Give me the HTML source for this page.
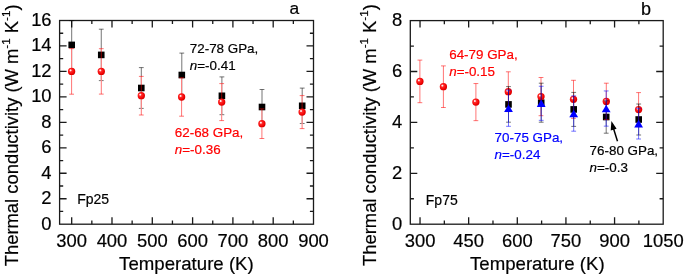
<!DOCTYPE html><html><head><meta charset="utf-8"><style>html,body{margin:0;padding:0;background:#fff;width:685px;height:276px;overflow:hidden}svg{display:block;will-change:transform;font-family:"Liberation Sans",sans-serif}text{stroke-width:0.2px;stroke-linejoin:round}.tk,.ti,.tx,.fp,.ab{stroke:#000}.tk{font-size:18.4px;fill:#000}.ti{font-size:18.4px;fill:#000}.tx{font-size:18.65px;fill:#000}.an{font-size:13.4px}.fp{font-size:14px;fill:#000}.ab{font-size:18px;fill:#000}</style></head><body>
<svg width="685" height="276" viewBox="0 0 685 276">
<defs><radialGradient id="rg" cx="0.42" cy="0.42" r="0.6" fx="0.34" fy="0.34"><stop offset="0" stop-color="#ffffff"/><stop offset="0.12" stop-color="#ffe0e0"/><stop offset="0.32" stop-color="#ff2a2a"/><stop offset="0.8" stop-color="#f00000"/><stop offset="1" stop-color="#d00000"/></radialGradient></defs>
<path d="M71.69 224.20V217.20M71.69 20.50V27.50M111.99 224.20V217.20M111.99 20.50V27.50M152.29 224.20V217.20M152.29 20.50V27.50M192.60 224.20V217.20M192.60 20.50V27.50M232.90 224.20V217.20M232.90 20.50V27.50M273.20 224.20V217.20M273.20 20.50V27.50M91.84 224.20V220.60M91.84 20.50V24.10M132.14 224.20V220.60M132.14 20.50V24.10M172.44 224.20V220.60M172.44 20.50V24.10M212.75 224.20V220.60M212.75 20.50V24.10M253.05 224.20V220.60M253.05 20.50V24.10M293.35 224.20V220.60M293.35 20.50V24.10M59.60 198.74H66.60M313.50 198.74H306.50M59.60 173.27H66.60M313.50 173.27H306.50M59.60 147.81H66.60M313.50 147.81H306.50M59.60 122.35H66.60M313.50 122.35H306.50M59.60 96.89H66.60M313.50 96.89H306.50M59.60 71.43H66.60M313.50 71.43H306.50M59.60 45.96H66.60M313.50 45.96H306.50M59.60 211.47H63.20M313.50 211.47H309.90M59.60 186.01H63.20M313.50 186.01H309.90M59.60 160.54H63.20M313.50 160.54H309.90M59.60 135.08H63.20M313.50 135.08H309.90M59.60 109.62H63.20M313.50 109.62H309.90M59.60 84.16H63.20M313.50 84.16H309.90M59.60 58.69H63.20M313.50 58.69H309.90M59.60 33.23H63.20M313.50 33.23H309.90" stroke="#1a1a1a" stroke-width="1.3" fill="none"/>
<rect x="59.6" y="20.5" width="253.90" height="203.70" stroke="#1a1a1a" stroke-width="1.3" fill="none"/>
<text x="51.6" y="229.50" text-anchor="end" class="tk">0</text>
<text x="51.6" y="204.04" text-anchor="end" class="tk">2</text>
<text x="51.6" y="178.57" text-anchor="end" class="tk">4</text>
<text x="51.6" y="153.11" text-anchor="end" class="tk">6</text>
<text x="51.6" y="127.65" text-anchor="end" class="tk">8</text>
<text x="51.6" y="102.19" text-anchor="end" class="tk">10</text>
<text x="51.6" y="76.73" text-anchor="end" class="tk">12</text>
<text x="51.6" y="51.26" text-anchor="end" class="tk">14</text>
<text x="51.6" y="25.80" text-anchor="end" class="tk">16</text>
<text x="71.69" y="246.8" text-anchor="middle" class="tk">300</text>
<text x="111.99" y="246.8" text-anchor="middle" class="tk">400</text>
<text x="152.29" y="246.8" text-anchor="middle" class="tk">500</text>
<text x="192.60" y="246.8" text-anchor="middle" class="tk">600</text>
<text x="232.90" y="246.8" text-anchor="middle" class="tk">700</text>
<text x="273.20" y="246.8" text-anchor="middle" class="tk">800</text>
<text x="313.50" y="246.8" text-anchor="middle" class="tk">900</text>
<path d="M420.03 224.20V217.20M420.03 20.60V27.60M468.66 224.20V217.20M468.66 20.60V27.60M517.30 224.20V217.20M517.30 20.60V27.60M565.93 224.20V217.20M565.93 20.60V27.60M614.57 224.20V217.20M614.57 20.60V27.60M444.34 224.20V220.60M444.34 20.60V24.20M492.98 224.20V220.60M492.98 20.60V24.20M541.61 224.20V220.60M541.61 20.60V24.20M590.25 224.20V220.60M590.25 20.60V24.20M638.88 224.20V220.60M638.88 20.60V24.20M410.30 173.30H417.30M663.20 173.30H656.20M410.30 122.40H417.30M663.20 122.40H656.20M410.30 71.50H417.30M663.20 71.50H656.20M410.30 198.75H413.90M663.20 198.75H659.60M410.30 147.85H413.90M663.20 147.85H659.60M410.30 96.95H413.90M663.20 96.95H659.60M410.30 46.05H413.90M663.20 46.05H659.60" stroke="#1a1a1a" stroke-width="1.3" fill="none"/>
<rect x="410.3" y="20.6" width="252.90" height="203.60" stroke="#1a1a1a" stroke-width="1.3" fill="none"/>
<text x="402.2" y="229.50" text-anchor="end" class="tk">0</text>
<text x="402.2" y="178.60" text-anchor="end" class="tk">2</text>
<text x="402.2" y="127.70" text-anchor="end" class="tk">4</text>
<text x="402.2" y="76.80" text-anchor="end" class="tk">6</text>
<text x="402.2" y="25.90" text-anchor="end" class="tk">8</text>
<text x="420.03" y="246.8" text-anchor="middle" class="tk">300</text>
<text x="468.66" y="246.8" text-anchor="middle" class="tk">450</text>
<text x="517.30" y="246.8" text-anchor="middle" class="tk">600</text>
<text x="565.93" y="246.8" text-anchor="middle" class="tk">750</text>
<text x="614.57" y="246.8" text-anchor="middle" class="tk">900</text>
<text x="663.20" y="246.8" text-anchor="middle" class="tk">1050</text>
<path d="M71.70 20.60V69.20M69.30 20.60H74.10M69.30 69.20H74.10" stroke="#000" stroke-width="0.55" fill="none"/>
<path d="M101.25 29.20V80.60M98.85 29.20H103.65M98.85 80.60H103.65" stroke="#000" stroke-width="0.55" fill="none"/>
<path d="M141.30 67.60V108.40M138.90 67.60H143.70M138.90 108.40H143.70" stroke="#000" stroke-width="0.55" fill="none"/>
<path d="M181.80 53.10V96.90M179.40 53.10H184.20M179.40 96.90H184.20" stroke="#000" stroke-width="0.55" fill="none"/>
<path d="M221.90 76.90V114.70M219.50 76.90H224.30M219.50 114.70H224.30" stroke="#000" stroke-width="0.55" fill="none"/>
<path d="M262.00 89.50V124.50M259.60 89.50H264.40M259.60 124.50H264.40" stroke="#000" stroke-width="0.55" fill="none"/>
<path d="M302.20 88.10V123.50M299.80 88.10H304.60M299.80 123.50H304.60" stroke="#000" stroke-width="0.55" fill="none"/>
<path d="M71.60 48.60V94.20" stroke="#fff" stroke-width="1.1"/>
<path d="M101.30 48.70V94.10" stroke="#fff" stroke-width="1.1"/>
<path d="M141.30 76.40V115.00" stroke="#fff" stroke-width="1.1"/>
<path d="M181.60 77.80V116.20" stroke="#fff" stroke-width="1.1"/>
<path d="M221.70 83.60V120.60" stroke="#fff" stroke-width="1.1"/>
<path d="M261.90 108.90V138.50" stroke="#fff" stroke-width="1.1"/>
<path d="M302.10 95.60V128.60" stroke="#fff" stroke-width="1.1"/>
<rect x="68.40" y="41.60" width="6.6" height="6.6" fill="#000"/>
<rect x="97.95" y="51.60" width="6.6" height="6.6" fill="#000"/>
<rect x="138.00" y="84.70" width="6.6" height="6.6" fill="#000"/>
<rect x="178.50" y="71.70" width="6.6" height="6.6" fill="#000"/>
<rect x="218.60" y="92.50" width="6.6" height="6.6" fill="#000"/>
<rect x="258.70" y="103.70" width="6.6" height="6.6" fill="#000"/>
<rect x="298.90" y="102.50" width="6.6" height="6.6" fill="#000"/>
<path d="M71.60 48.60V94.20M69.20 48.60H74.00M69.20 94.20H74.00" stroke="#ff0000" stroke-width="0.55" fill="none"/>
<circle cx="71.60" cy="71.40" r="3.65" fill="url(#rg)"/>
<path d="M101.30 48.70V94.10M98.90 48.70H103.70M98.90 94.10H103.70" stroke="#ff0000" stroke-width="0.55" fill="none"/>
<circle cx="101.30" cy="71.40" r="3.65" fill="url(#rg)"/>
<path d="M141.30 76.40V115.00M138.90 76.40H143.70M138.90 115.00H143.70" stroke="#ff0000" stroke-width="0.55" fill="none"/>
<circle cx="141.30" cy="95.70" r="3.65" fill="url(#rg)"/>
<path d="M181.60 77.80V116.20M179.20 77.80H184.00M179.20 116.20H184.00" stroke="#ff0000" stroke-width="0.55" fill="none"/>
<circle cx="181.60" cy="97.00" r="3.65" fill="url(#rg)"/>
<path d="M221.70 83.60V120.60M219.30 83.60H224.10M219.30 120.60H224.10" stroke="#ff0000" stroke-width="0.55" fill="none"/>
<circle cx="221.70" cy="102.10" r="3.65" fill="url(#rg)"/>
<path d="M261.90 108.90V138.50M259.50 108.90H264.30M259.50 138.50H264.30" stroke="#ff0000" stroke-width="0.55" fill="none"/>
<circle cx="261.90" cy="123.70" r="3.65" fill="url(#rg)"/>
<path d="M302.10 95.60V128.60M299.70 95.60H304.50M299.70 128.60H304.50" stroke="#ff0000" stroke-width="0.55" fill="none"/>
<circle cx="302.10" cy="112.10" r="3.65" fill="url(#rg)"/>
<rect x="505.20" y="101.10" width="6.6" height="6.6" fill="#000"/>
<rect x="537.90" y="99.40" width="6.6" height="6.6" fill="#000"/>
<rect x="570.40" y="106.10" width="6.6" height="6.6" fill="#000"/>
<rect x="602.90" y="113.70" width="6.6" height="6.6" fill="#000"/>
<rect x="635.40" y="116.20" width="6.6" height="6.6" fill="#000"/>
<path d="M419.90 60.10V102.70M417.50 60.10H422.30M417.50 102.70H422.30" stroke="#ff0000" stroke-width="0.55" fill="none"/>
<circle cx="419.90" cy="81.40" r="3.65" fill="url(#rg)"/>
<path d="M443.40 65.90V107.50M441.00 65.90H445.80M441.00 107.50H445.80" stroke="#ff0000" stroke-width="0.55" fill="none"/>
<circle cx="443.40" cy="86.70" r="3.65" fill="url(#rg)"/>
<path d="M475.90 83.55V120.65M473.50 83.55H478.30M473.50 120.65H478.30" stroke="#ff0000" stroke-width="0.55" fill="none"/>
<circle cx="475.90" cy="102.10" r="3.65" fill="url(#rg)"/>
<path d="M508.30 71.80V111.60M505.90 71.80H510.70M505.90 111.60H510.70" stroke="#ff0000" stroke-width="0.55" fill="none"/>
<circle cx="508.30" cy="91.70" r="3.65" fill="url(#rg)"/>
<path d="M541.00 77.50V115.70M538.60 77.50H543.40M538.60 115.70H543.40" stroke="#ff0000" stroke-width="0.55" fill="none"/>
<circle cx="541.00" cy="96.60" r="3.65" fill="url(#rg)"/>
<path d="M573.50 80.30V118.30M571.10 80.30H575.90M571.10 118.30H575.90" stroke="#ff0000" stroke-width="0.55" fill="none"/>
<circle cx="573.50" cy="99.30" r="3.65" fill="url(#rg)"/>
<path d="M606.30 83.20V119.60M603.90 83.20H608.70M603.90 119.60H608.70" stroke="#ff0000" stroke-width="0.55" fill="none"/>
<circle cx="606.30" cy="101.40" r="3.65" fill="url(#rg)"/>
<path d="M638.60 92.60V126.60M636.20 92.60H641.00M636.20 126.60H641.00" stroke="#ff0000" stroke-width="0.55" fill="none"/>
<circle cx="638.60" cy="109.60" r="3.65" fill="url(#rg)"/>
<path d="M508.50 86.60V122.20M506.10 86.60H510.90M506.10 122.20H510.90" stroke="#000" stroke-width="0.55" fill="none"/>
<path d="M541.20 83.20V122.20M538.80 83.20H543.60M538.80 122.20H543.60" stroke="#000" stroke-width="0.55" fill="none"/>
<path d="M573.70 92.40V126.40M571.30 92.40H576.10M571.30 126.40H576.10" stroke="#000" stroke-width="0.55" fill="none"/>
<path d="M606.20 100.80V133.20M603.80 100.80H608.60M603.80 133.20H608.60" stroke="#000" stroke-width="0.55" fill="none"/>
<path d="M638.70 104.00V135.00M636.30 104.00H641.10M636.30 135.00H641.10" stroke="#000" stroke-width="0.55" fill="none"/>
<path d="M508.50 90.10V126.30M506.10 90.10H510.90M506.10 126.30H510.90" stroke="#0000ff" stroke-width="0.55" fill="none"/>
<path d="M541.20 86.25V120.35M538.80 86.25H543.60M538.80 120.35H543.60" stroke="#0000ff" stroke-width="0.55" fill="none"/>
<path d="M573.70 95.90V131.20M571.30 95.90H576.10M571.30 131.20H576.10" stroke="#0000ff" stroke-width="0.55" fill="none"/>
<path d="M606.20 90.95V126.15M603.80 90.95H608.60M603.80 126.15H608.60" stroke="#0000ff" stroke-width="0.55" fill="none"/>
<path d="M638.60 108.30V139.00M636.20 108.30H641.00M636.20 139.00H641.00" stroke="#0000ff" stroke-width="0.55" fill="none"/>
<path d="M508.50 104.40L512.90 112.00L504.10 112.00Z" fill="#0000ff"/>
<path d="M541.20 99.50L545.60 107.10L536.80 107.10Z" fill="#0000ff"/>
<path d="M573.70 109.75L578.10 117.35L569.30 117.35Z" fill="#0000ff"/>
<path d="M606.20 104.75L610.60 112.35L601.80 112.35Z" fill="#0000ff"/>
<path d="M638.60 119.85L643.00 127.45L634.20 127.45Z" fill="#0000ff"/>
<text x="186.4" y="269.8" text-anchor="middle" class="tx">Temperature (K)</text>
<text x="537.3" y="269.8" text-anchor="middle" class="tx">Temperature (K)</text>
<text transform="translate(18.2 266.3) rotate(-90)" class="ti">Thermal conductivity (W m<tspan dy="-8.3" font-size="11.6">-1</tspan><tspan dy="8.3"> K</tspan><tspan dy="-8.3" font-size="11.6">-1</tspan><tspan dy="8.3">)</tspan></text>
<text transform="translate(376.1 266.0) rotate(-90)" class="ti">Thermal conductivity (W m<tspan dy="-8.3" font-size="11.6">-1</tspan><tspan dy="8.3"> K</tspan><tspan dy="-8.3" font-size="11.6">-1</tspan><tspan dy="8.3">)</tspan></text>
<text x="189.8" y="53.0" class="an" fill="#000" stroke="#000">72-78 GPa,</text>
<text x="189.8" y="69.7" class="an" fill="#000" stroke="#000"><tspan font-style="italic">n</tspan>=-0.41</text>
<text x="174.8" y="137.0" class="an" fill="#ff0000" stroke="#ff0000">62-68 GPa,</text>
<text x="174.8" y="153.7" class="an" fill="#ff0000" stroke="#ff0000"><tspan font-style="italic">n</tspan>=-0.36</text>
<text x="449.2" y="59.1" class="an" fill="#ff0000" stroke="#ff0000">64-79 GPa,</text>
<text x="449.2" y="76.3" class="an" fill="#ff0000" stroke="#ff0000"><tspan font-style="italic">n</tspan>=-0.15</text>
<text x="494.6" y="142.1" class="an" fill="#0000ff" stroke="#0000ff">70-75 GPa,</text>
<text x="494.6" y="159.3" class="an" fill="#0000ff" stroke="#0000ff"><tspan font-style="italic">n</tspan>=-0.24</text>
<text x="589.6" y="155.0" class="an" fill="#000" stroke="#000">76-80 GPa,</text>
<text x="589.6" y="171.9" class="an" fill="#000" stroke="#000"><tspan font-style="italic">n</tspan>=-0.3</text>
<path d="M617.5 141.3L613.6 128.8" stroke="#000" stroke-width="1.5"/>
<path d="M611.4 121.0L616.6 128.7L610.7 130.5Z" fill="#000"/>
<text x="77.2" y="204.1" class="fp">Fp25</text>
<text x="425.8" y="205.2" class="fp">Fp75</text>
<text x="289.6" y="14.2" class="ab" style="font-size:17.4px">a</text>
<text x="641.0" y="15.4" class="ab">b</text>
</svg></body></html>
